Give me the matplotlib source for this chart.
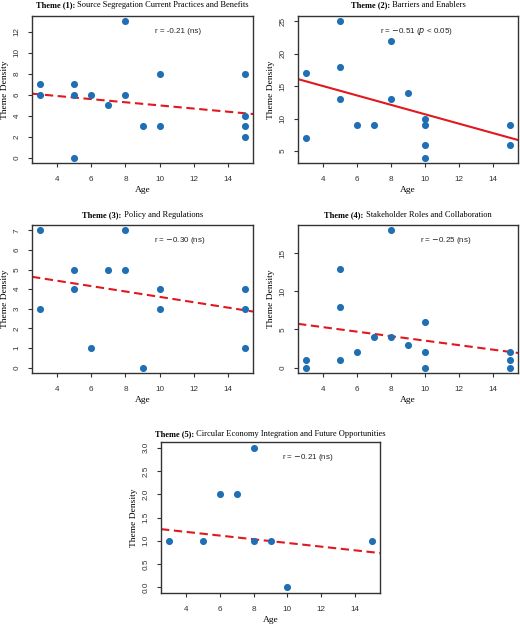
import numpy as np
import matplotlib
matplotlib.use("Agg")
import matplotlib.pyplot as plt

# --- data ---
# Theme 1: Source Segregation Current Practices and Benefits
age1 = [3, 3, 5, 5, 5, 6, 7, 8, 8, 9, 10, 10, 15, 15, 15, 15]
dens1 = [7, 6, 7, 6, 0, 6, 5, 13, 6, 3, 8, 3, 8, 4, 3, 2]
# Theme 2: Barriers and Enablers
age2 = [3, 3, 5, 5, 5, 6, 7, 8, 8, 9, 10, 10, 10, 10, 15, 15]
dens2 = [17, 7, 25, 18, 13, 9, 9, 22, 13, 14, 10, 9, 6, 4, 9, 6]
# Theme 3: Policy and Regulations
age3 = [3, 3, 5, 5, 6, 7, 8, 8, 9, 10, 10, 15, 15, 15]
dens3 = [7, 3, 5, 4, 1, 5, 7, 5, 0, 4, 3, 4, 3, 1]
# Theme 4: Stakeholder Roles and Collaboration
age4 = [3, 3, 5, 5, 5, 6, 7, 8, 8, 9, 10, 10, 10, 15, 15, 15]
dens4 = [1, 0, 13, 8, 1, 2, 4, 18, 4, 3, 6, 2, 0, 2, 1, 0]
# Theme 5: Circular Economy Integration and Future Opportunities
age5 = [3, 5, 6, 7, 8, 8, 9, 10, 15]
dens5 = [1, 1, 2, 2, 3, 1, 1, 0, 1]

# fitted lines as drawn (intercept, slope)
fit_intercepts = [6.48, 17.93, 4.98, 6.48, 1.35]
fit_slopes = [-0.150, -0.725, -0.137, -0.295, -0.0396]
significant = [False, True, False, False, False]

r_labels = ["r = -0.21 (ns)",
            r"r = $-$0.51 ($\it{p}$ < 0.05)",
            r"r = $-$0.30 (ns)",
            r"r = $-$0.25 (ns)",
            r"r = $-$0.21 (ns)"]
r_pos = [(11.1, 12.0), (9.5, 23.5), (11.2, 6.48), (11.2, 16.7), (11.2, 2.79)]

title_bold = ["Theme (1):", "Theme (2):", "Theme (3):", "Theme (4):", "Theme (5):"]
title_rest = [" Source Segregation Current Practices and Benefits",
              " Barriers and Enablers",
              " Policy and Regulations",
              " Stakeholder Roles and Collaboration",
              " Circular Economy Integration and Future Opportunities"]
yticks = [np.arange(0, 13, 2), np.arange(5, 26, 5), np.arange(0, 8, 1),
          np.arange(0, 16, 5), np.arange(0, 3.01, 0.5)]
xticks = [4, 6, 8, 10, 12, 14]

ages = [age1, age2, age3, age4, age5]
dens = [dens1, dens2, dens3, dens4, dens5]

W, H = 520, 624
fig = plt.figure(figsize=(W / 100, H / 100), dpi=100)

# axes boxes in pixels: left, top, right, bottom
boxes = [(32, 16, 253, 163), (298, 16, 518, 163),
         (32, 225, 253, 373), (298, 225, 518, 373),
         (161, 442, 380, 593)]
title_gap = [11, 11, 10, 10, 8]

serif = "Liberation Serif"
sans = "Liberation Sans"
dot_col = "#1f6fb4"
line_col = "#e0191f"

axes = []
for i in range(5):
    l, t, r, b = boxes[i]
    ax = fig.add_axes([l / W, 1 - b / H, (r - l) / W, (b - t) / H])
    axes.append(ax)
    ax.scatter(ages[i], dens[i], s=26, color=dot_col, zorder=3, linewidths=0)
    ax.margins(0.04)
    ax.set_xticks(xticks)
    ax.set_yticks(yticks[i])
    if i == 4:
        ax.set_yticklabels([f"{v:.1f}" for v in yticks[i]])
    xl = ax.get_xlim()
    xs = np.array(xl)
    ls = "-" if significant[i] else (0, (4, 2.2))
    ax.plot(xs, fit_intercepts[i] + fit_slopes[i] * xs, color=line_col,
            lw=1.5, ls=ls, zorder=2)
    ax.set_xlim(xl)
    for lab in ax.get_yticklabels():
        lab.set_rotation(90)
        lab.set_va("center")
    ax.tick_params(labelsize=5.9, length=3, width=0.8, color="#333333",
                   labelcolor="#333333")
    ax.tick_params(axis="x", pad=6.5)
    ax.tick_params(axis="y", pad=5)
    for lab in ax.get_xticklabels() + ax.get_yticklabels():
        lab.set_family(sans)
    for sp in ax.spines.values():
        sp.set_linewidth(1.0)
        sp.set_color("#333333")
    ax.set_xlabel("Age", fontsize=6.8, family=serif)
    ax.set_ylabel("Theme Density", fontsize=6.8, family=serif)
    ax.xaxis.label.set_va("center")
    ax.yaxis.label.set_va("center")
    ax.xaxis.set_label_coords(0.5, -27 / (b - t))
    ax.yaxis.set_label_coords(-27 / (r - l), 0.5)
    ax.text(r_pos[i][0], r_pos[i][1], r_labels[i], fontsize=5.8, family=sans,
            ha="center", va="center", color="#222222")

# titles: bold prefix + regular remainder, centred over each panel
fig.canvas.draw()
rend = fig.canvas.get_renderer()
for i, ax in enumerate(axes):
    l, t, r, b = boxes[i]
    cx = (l + r) / 2
    ty = 1 - (t - title_gap[i]) / H
    tb = fig.text(0, ty, title_bold[i], fontsize=6.0, family=serif,
                  weight="bold", va="center", ha="left")
    tr = fig.text(0, ty, title_rest[i], fontsize=6.0, family=serif,
                  va="center", ha="left")
    wb = tb.get_window_extent(rend).width
    wr = tr.get_window_extent(rend).width
    x0 = cx - (wb + wr) / 2
    tb.set_x(x0 / W)
    tr.set_x((x0 + wb) / W)

fig.savefig("out.png", dpi=100)
